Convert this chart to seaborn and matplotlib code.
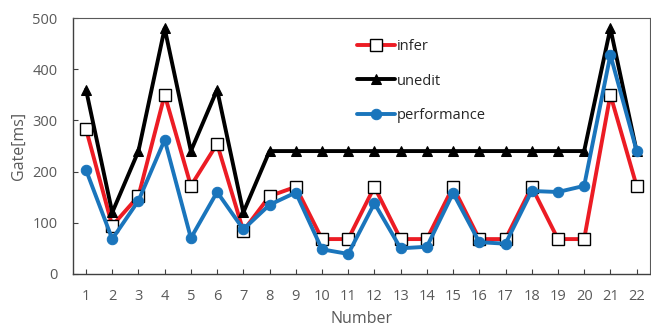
import pandas as pd
import matplotlib.pyplot as plt
import seaborn as sns

# Values
numbers = list(range(1, 23))
infer = [283, 94, 152, 350, 172, 254, 84, 152, 170, 68, 68, 170, 68, 68, 170, 68, 68, 170, 68, 68, 350, 172]
unedit = [360, 120, 240, 480, 240, 360, 120, 240, 240, 240, 240, 240, 240, 240, 240, 240, 240, 240, 240, 240, 480, 240]
performance = [203, 68, 143, 262, 70, 160, 87, 135, 159, 48, 39, 138, 50, 53, 158, 62, 59, 162, 160, 172, 428, 241]

df = pd.DataFrame({'Number': numbers, 'infer': infer, 'unedit': unedit, 'performance': performance})

sns.set_style('white', {'xtick.bottom': True, 'ytick.left': True})
plt.rcParams['font.family'] = ['Open Sans', 'DejaVu Sans']

fig = plt.figure(figsize=(6.51, 3.34), dpi=100)
ax = fig.add_axes([0.112, 0.180, 0.886, 0.766])

sns.lineplot(data=df, x='Number', y='infer', ax=ax, color='#EC1C24', linewidth=2.8,
             marker='s', markersize=8.5, markerfacecolor='white', markeredgecolor='black',
             markeredgewidth=1.0, label='infer')
sns.lineplot(data=df, x='Number', y='unedit', ax=ax, color='black', linewidth=2.8,
             marker='^', markersize=7.5, markeredgecolor='black', label='unedit')
sns.lineplot(data=df, x='Number', y='performance', ax=ax, color='#1A75BC', linewidth=2.8,
             marker='o', markersize=7.5, markeredgecolor='#1A75BC', label='performance')

ax.set_xlim(0.5, 22.5)
ax.set_ylim(0, 500)
ax.set_xticks(numbers)
ax.set_yticks([0, 100, 200, 300, 400, 500])
ax.tick_params(axis='both', labelcolor='#595959', color='#404040', labelsize=10.5,
               direction='in', length=3.5, width=0.8, pad=11)
ax.set_xlabel('Number', color='#595959', fontsize=11.5, labelpad=5)
ax.set_ylabel('Gate[ms]', color='#595959', fontsize=11.5, labelpad=4)

for side in ['left', 'bottom']:
    ax.spines[side].set_color('#404040')
    ax.spines[side].set_linewidth(1.0)
for side in ['top', 'right']:
    ax.spines[side].set_color('#595959')
    ax.spines[side].set_linewidth(0.8)

ax.legend(loc='upper left', bbox_to_anchor=(0.47, 0.97), frameon=False, fontsize=10.5,
          handlelength=2.6, handletextpad=0.1, labelspacing=1.35)

fig.savefig('out.png', dpi=100)
